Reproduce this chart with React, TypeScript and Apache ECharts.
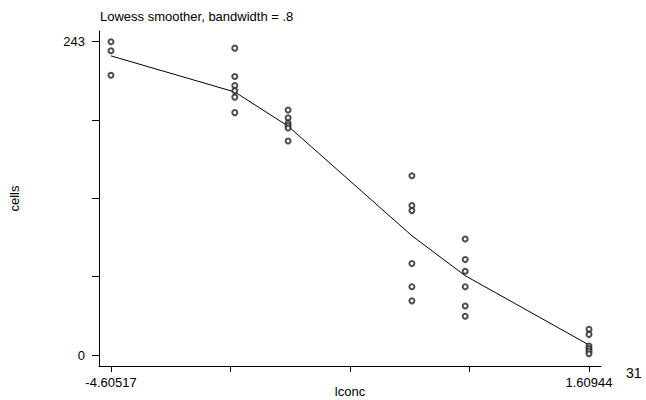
import React, { useEffect, useRef } from "react";
import * as echarts from "echarts";

// x positions (log concentration) of each measurement group
const lconcLevels = [-4.60517, -2.99573, -2.30259, -0.69315, 0, 1.60944];
// observed cell counts per concentration group
const cellsGroups = [
  [243, 236, 217],
  [238, 216, 209, 205, 200, 188],
  [190, 184, 180, 178, 176, 166],
  [139, 116, 112, 71, 53, 42],
  [90, 74, 65, 53, 38, 30],
  [20, 16, 7, 5, 3, 1],
];
// lowess smoothed values at each concentration
const lowessValues = [232, 204, 177.5, 92.5, 61.5, 7.8];

const xTicks = [-4.60517, -3.05152, -1.49786, 0.05579, 1.60944];
const xLabels = [-4.60517, 1.60944];
const yTicks = [0, 60.75, 121.5, 182.25, 243];
const yLabels = [0, 243];

const FONT = "'Liberation Sans', Arial, Helvetica, sans-serif";

export default function App() {
  const ref = useRef<HTMLDivElement>(null);
  useEffect(() => {
    if (!ref.current) return;
    const chart = echarts.init(ref.current, undefined, { renderer: "svg" });
    const points: number[][] = [];
    cellsGroups.forEach((g, i) => g.forEach((v) => points.push([lconcLevels[i], v])));
    const line = lconcLevels.map((x, i) => [x, lowessValues[i]]);
    chart.setOption({
      animation: false,
      backgroundColor: "#fff",
      textStyle: { fontFamily: FONT, color: "#000" },
      title: {
        text: "Lowess smoother, bandwidth = .8",
        left: 95,
        top: 5,
        textStyle: { fontFamily: FONT, fontSize: 13, fontWeight: "normal", color: "#000" },
      },
      graphic: [
        {
          type: "text",
          left: 626,
          top: 366,
          style: { text: "31", font: `14px ${FONT}`, fill: "#000" },
        },
      ],
      grid: {
        left: 99,
        top: 31,
        right: 45,
        bottom: 34,
        containLabel: false,
        outerBoundsMode: "none",
      },
      xAxis: {
        type: "value",
        min: -4.761,
        max: 1.7654,
        name: "lconc",
        nameLocation: "middle",
        nameGap: 19,
        nameMoveOverlap: false,
        nameTextStyle: { fontFamily: FONT, fontSize: 13, color: "#000" },
        axisLine: { show: true, onZero: false, lineStyle: { color: "#000", width: 1 } },
        axisTick: { show: true, length: 6, customValues: xTicks, lineStyle: { color: "#000" } },
        axisLabel: {
          customValues: xLabels,
          margin: 10,
          fontSize: 13,
          color: "#000",
          fontFamily: FONT,
          formatter: (v: number) => v.toFixed(5),
        },
        splitLine: { show: false },
      },
      yAxis: {
        type: "value",
        min: -8.53,
        max: 251.3,
        name: "cells",
        nameLocation: "middle",
        nameGap: 78,
        nameMoveOverlap: false,
        nameRotate: 90,
        nameTextStyle: { fontFamily: FONT, fontSize: 13, color: "#000" },
        axisLine: { show: true, onZero: false, lineStyle: { color: "#000", width: 1 } },
        axisTick: { show: true, length: 7, customValues: yTicks, lineStyle: { color: "#000" } },
        axisLabel: {
          customValues: yLabels,
          margin: 14,
          fontSize: 13,
          color: "#000",
          fontFamily: FONT,
        },
        splitLine: { show: false },
      },
      series: [
        {
          type: "scatter",
          data: points,
          symbol: "emptyCircle",
          symbolSize: 5,
          itemStyle: { color: "#222", borderColor: "#222", borderWidth: 0.7 },
          z: 3,
        },
        {
          type: "line",
          data: line,
          symbol: "none",
          lineStyle: { color: "#000", width: 1 },
          z: 2,
        },
      ],
    });
    return () => chart.dispose();
  }, []);
  return (
    <div
      ref={ref}
      style={{ position: "fixed", left: 0, top: 0, width: 646, height: 400 }}
    />
  );
}
